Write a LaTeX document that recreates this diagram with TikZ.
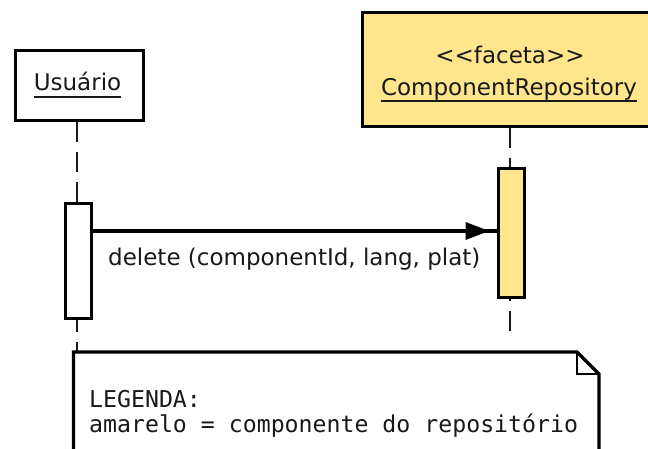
\documentclass[tikz,border=0pt]{standalone}
\usepackage{fontspec}
\setmainfont[Ligatures=ResetAll]{DejaVu Sans}
\newfontfamily\monofont{DejaVu Sans Mono}
\usetikzlibrary{arrows.meta}
\definecolor{umlyellow}{RGB}{255,230,140}
\tikzset{
  box/.style={draw=black, line width=3.3pt, inner sep=0pt, anchor=north west},
  txt/.style={inner sep=0pt, font=\fontsize{23}{27}\selectfont, text=black!90},
  mono/.style={inner sep=0pt, font=\monofont\fontsize{23.2}{27}\selectfont, text=black!90, anchor=base west},
  ul/.style={line width=2pt, black!90},
  lifeline/.style={line width=2pt, dash pattern=on 20pt off 10pt, black!90},
  msg/.style={line width=3.3pt},
}
\begin{document}
\begin{tikzpicture}[x=1pt,y=-1pt]
\useasboundingbox (0,0) rectangle (648,448);
% lifeline heads
\node[box, fill=white, minimum width=128pt, minimum height=70.5pt] (user) at (13.5,48.5) {};
\node[box, fill=umlyellow, minimum width=298pt, minimum height=114pt] (repo) at (361,11) {};
\node[txt, anchor=base] (usertxt) at (77.5,90) {Usuário};
\draw[ul] ([yshift=-7pt]usertxt.base west) -- ([yshift=-7pt]usertxt.base east);
\node[txt, anchor=base] (stereo) at (510,63) {<\kern0pt<\kern0pt faceta>\kern0pt>};
\node[txt, anchor=base] (repotxt) at (509,95) {ComponentRepository};
\draw[ul] ([yshift=-6pt]repotxt.base west) -- ([yshift=-6pt]repotxt.base east);
% activations
\node[box, fill=white, minimum width=26pt, minimum height=115pt] (uact) at (63.5,201.5) {};
\node[box, fill=umlyellow, minimum width=26pt, minimum height=129pt] (ract) at (496.5,166.5) {};
% lifelines
\coordinate (uend) at (77,352);
\coordinate (rend) at (510,334);
\draw[lifeline] (user.south -| 77,0) -- (uact.north -| 77,0);
\draw[lifeline, dash phase=8pt] (uact.south -| 77,0) -- (uend);
\draw[lifeline] (repo.south -| 510,0) -- (ract.north -| 510,0);
\draw[lifeline, dash phase=18pt] (ract.south -| 510,0) -- (rend);
% message
\draw[msg] ([yshift=-29.5pt]uact.north east) -- ([yshift=-64.5pt]ract.north west);
\draw[msg, -{Triangle[length=24pt,width=17pt]}, shorten >=7pt] ([yshift=-29.5pt]uact.north east) -- ([yshift=-64.5pt]ract.north west);
\node[txt, anchor=base west] (msglbl) at (108,265) {delete (componentId, lang, plat)};
% note
\coordinate (n1) at (73.5,470);
\coordinate (n2) at (73.5,352);
\coordinate (n3) at (577,352);
\coordinate (n4) at (599,374);
\coordinate (n5) at (599,470);
\draw[line width=3.3pt, fill=white, line join=miter] (n1) -- (n2) -- (n3) -- (n4) -- (n5);
\draw[line width=1.5pt] (n3) -- (577,374) -- (n4);
\node[mono] (leg1) at (89,407) {LEGENDA:};
\node[mono] (leg2) at (89,432) {amarelo = componente do repositório};
\end{tikzpicture}
\end{document}
